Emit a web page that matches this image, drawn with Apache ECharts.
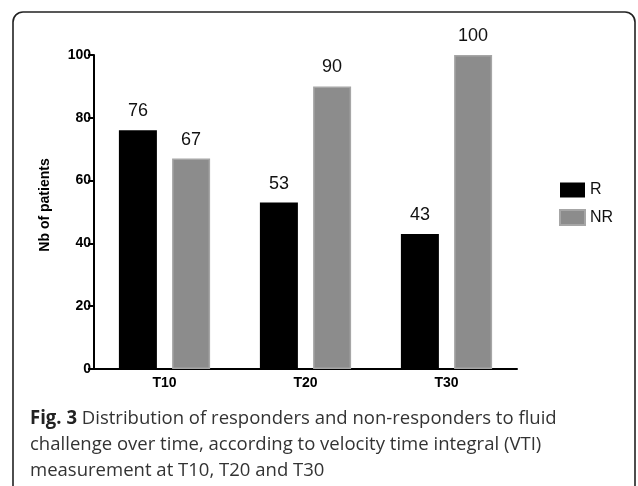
<!DOCTYPE html>
<html>
<head>
<meta charset="utf-8">
<script src="https://cdn.jsdelivr.net/npm/echarts@6/dist/echarts.min.js"></script>
<style>html,body{margin:0;padding:0;background:#fff;}#c{width:638px;height:486px;}</style>
</head>
<body>
<div id="c"></div>
<script>
const categories = ['T10', 'T20', 'T30'];
const seriesNames = ['R', 'NR'];
const valuesR = [76, 53, 43];
const valuesNR = [67, 90, 100];
const yTicks = [0, 20, 40, 60, 80, 100];
const captionLines = [
  'Distribution of responders and non-responders to fluid',
  'challenge over time, according to velocity time integral (VTI)',
  'measurement at T10, T20 and T30'
];

const chart = echarts.init(document.getElementById('c'));
const labelStyle = { show: true, position: 'top', distance: 10, fontSize: 18, color: '#111', fontFamily: 'Liberation Sans, Arial' };
const capFont = '"Open Sans", sans-serif';
chart.setOption({
  animation: false,
  backgroundColor: '#fff',
  grid: { left: 94, right: 121, top: 55, bottom: 117, containLabel: false },
  legend: {
    orient: 'vertical', left: 554, top: 177,
    itemWidth: 25, itemHeight: 15, itemGap: 11, icon: 'rect',
    textStyle: { fontSize: 16, color: '#111', fontFamily: 'Liberation Sans, Arial' },
    data: seriesNames
  },
  xAxis: {
    type: 'category', data: categories,
    axisLine: { lineStyle: { color: '#000', width: 2 } },
    axisTick: { alignWithLabel: true, length: 5, lineStyle: { color: '#000', width: 2 } },
    axisLabel: { fontSize: 14, fontWeight: 'bold', color: '#000', fontFamily: 'Liberation Sans, Arial', margin: 7 }
  },
  yAxis: {
    type: 'value', min: 0, max: 100, interval: 20,
    name: 'Nb of patients', nameLocation: 'middle', nameGap: 42,
    nameTextStyle: { fontSize: 14, fontWeight: 'bold', color: '#000', fontFamily: 'Liberation Sans, Arial', padding: [0, 0, 0, 14] },
    axisLine: { show: true, lineStyle: { color: '#000', width: 2 } },
    axisTick: { show: true, length: 6, lineStyle: { color: '#000', width: 2 } },
    splitLine: { show: false },
    axisLabel: { fontSize: 14, fontWeight: 'bold', color: '#000', fontFamily: 'Liberation Sans, Arial', margin: 3,
      formatter: v => yTicks.includes(v) ? String(v) : '' }
  },
  series: [
    { name: 'R', type: 'bar', data: valuesR, barWidth: 38, barGap: '40%',
      itemStyle: { color: '#000' }, label: labelStyle },
    { name: 'NR', type: 'bar', data: valuesNR, barWidth: 38,
      itemStyle: { color: '#8c8c8c', borderColor: '#a6a6a6', borderWidth: 1.5 }, label: labelStyle }
  ],
  graphic: [
    { type: 'rect', shape: { x: 13, y: 12, width: 622, height: 520, r: 10 },
      style: { fill: 'none', stroke: '#222', lineWidth: 1.6 }, silent: true },
    { type: 'text', x: 30, y: 409, scaleX: 0.975,
      style: { text: '{b|Fig. 3} ' + captionLines[0], font: '19px ' + capFont, fill: '#333',
        rich: { b: { fontWeight: 'bold', fontSize: 19, fontFamily: capFont, fill: '#222' } } } },
    { type: 'text', x: 30, y: 435, scaleX: 0.975, style: { text: captionLines[1], font: '19px ' + capFont, fill: '#333' } },
    { type: 'text', x: 30, y: 461, scaleX: 0.975, style: { text: captionLines[2], font: '19px ' + capFont, fill: '#333' } }
  ]
});
</script>
</body>
</html>
